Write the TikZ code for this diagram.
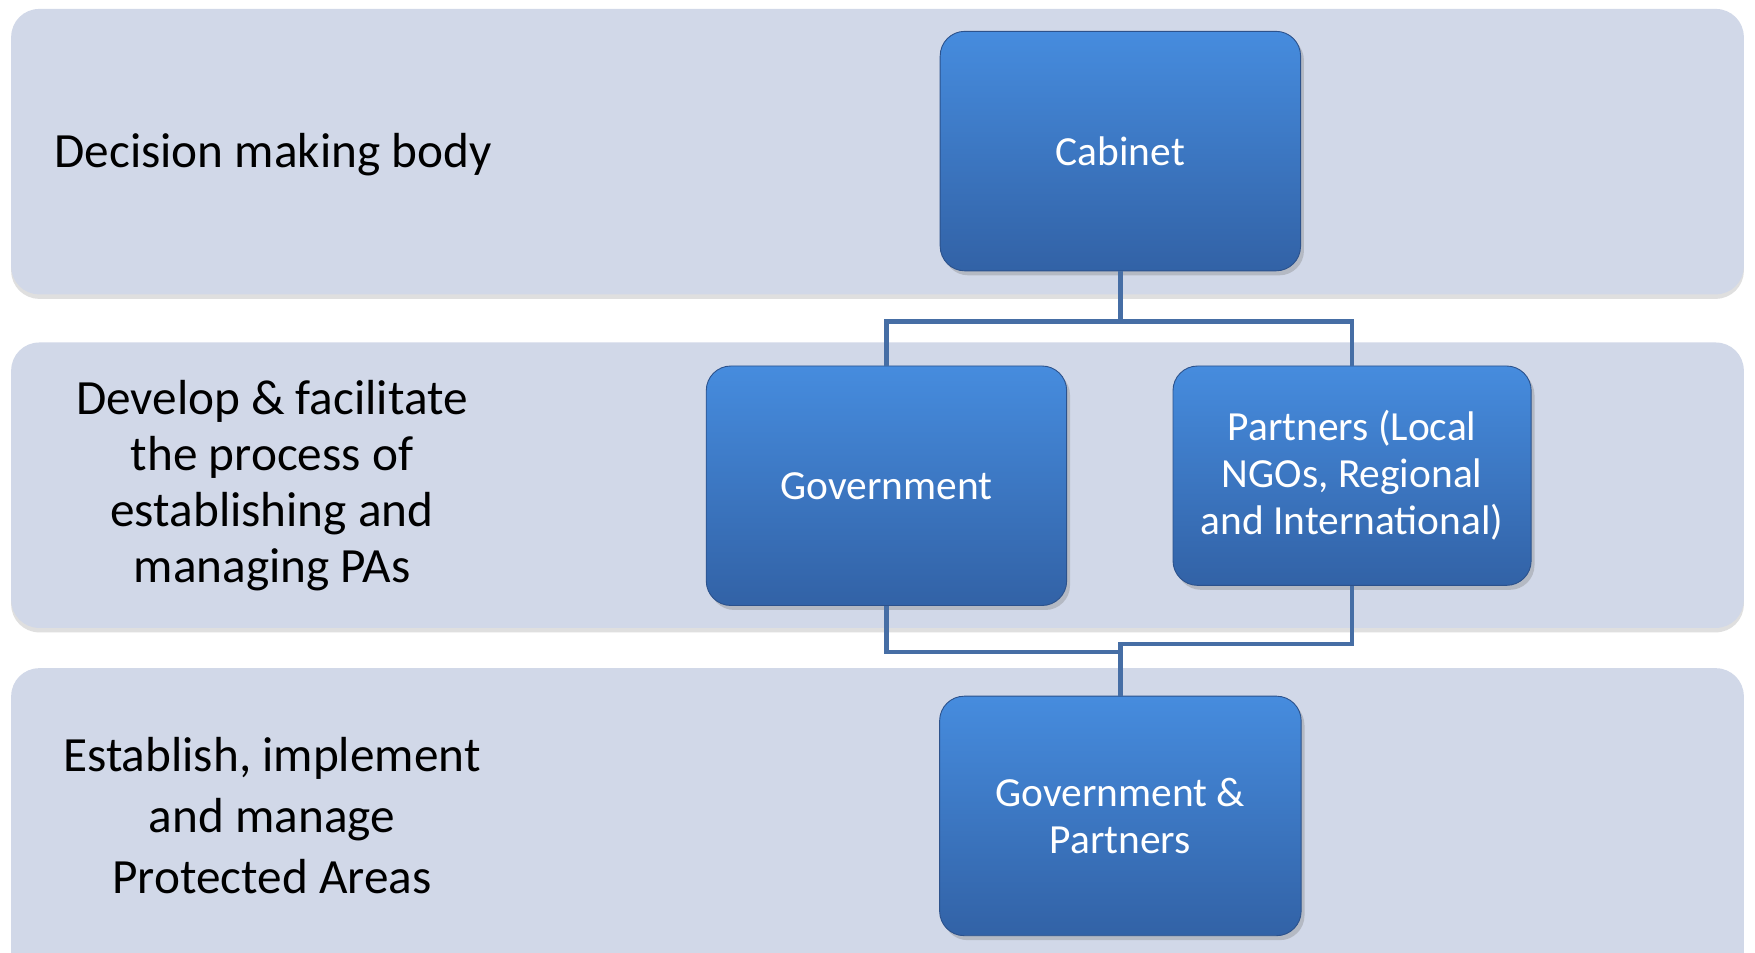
\documentclass[tikz,border=0pt]{standalone}
\usepackage{fontspec}
\setmainfont{Carlito}
\usetikzlibrary{shadows}

\definecolor{bandfill}{RGB}{209,216,232}
\definecolor{boxtop}{RGB}{70,140,222}
\definecolor{boxbottom}{RGB}{50,98,166}
\definecolor{boxline}{RGB}{44,82,140}
\definecolor{linkcolor}{RGB}{70,110,165}

\tikzset{
	band/.style={fill=bandfill, rounded corners=25pt, drop shadow={opacity=0.25, shadow xshift=0pt, shadow yshift=-4pt}},
	unit/.style={draw=boxline, line width=0.8pt, rounded corners=22pt, top color=boxtop, bottom color=boxbottom, text=white, align=center, font=\fontsize{37}{42}\selectfont, drop shadow={opacity=0.35, shadow xshift=3pt, shadow yshift=-4pt}},
	level/.style={align=center, font=\fontsize{44}{50}\selectfont},
	link/.style={draw=linkcolor, line width=4pt}
}

\begin{document}
\begin{tikzpicture}[x=1pt, y=1pt]
		\useasboundingbox (0,0) rectangle (1568,851);
		\clip (0,0) rectangle (1568,851);
		\fill[white] (0,0) rectangle (1568,851);
		\fill[band] (10,588) rectangle (1558,843);
		\fill[band] (10,290) rectangle (1558,545);
		\fill[band] (10,-30) rectangle (1558,254);

		\node[level] (decide) at (244,713) {Decision making body};
		\node[level] (develop) at (243,417) {Develop \& facilitate\\the process of\\establishing and\\managing PAs};
		\node[level, font=\fontsize{44}{54.5}\selectfont] (establish) at (243,122) {Establish, implement\\and manage\\Protected Areas};

		\node[unit, minimum width=322pt, minimum height=214pt] (cabinet) at (1001,716) {Cabinet};
		\node[unit, minimum width=322pt, minimum height=214pt] (gov) at (792,417) {Government};
		\node[unit, minimum width=320pt, minimum height=196pt] (partners) at (1208,426) {Partners (Local\\NGOs, Regional\\and International)};
		\node[unit, minimum width=323pt, minimum height=214pt] (govpart) at (1001,122) {Government \&\\Partners};

		\draw[link] (cabinet.south) -- ++(0,-45) -| (gov.north);
		\draw[link] (cabinet.south) -- ++(0,-45) -| (partners.north);
		\draw[link] (gov.south) -- ++(0,-41) -| (govpart.north);
		\draw[link] (partners.south) -- ++(0,-52) -| (govpart.north);
	\end{tikzpicture}
\end{document}
